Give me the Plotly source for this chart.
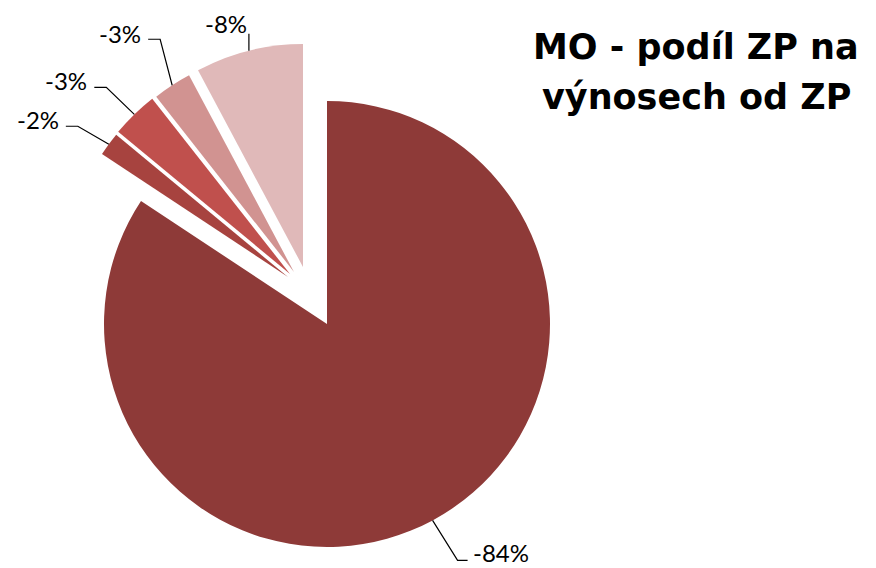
import math
import plotly.graph_objects as go

# ---- data ----
categories = ["MO 1", "MO 2", "MO 3", "MO 4", "MO 5"]
values = [84.3, 1.7, 3.4, 2.8, 7.8]          # shares (shown as negative %)
colors = ["#8E3A38", "#A7433F", "#C0504D", "#D19391", "#E0B9B9"]
title_lines = ["MO - podíl ZP na", "výnosech od ZP"]

# ---- layout / style ----
VW, VH = 876, 568            # browser window
OFF = 8                      # default page margin of the html body
W, H = VW - OFF, VH - OFF    # figure size so it ends at window edge
R = 223                      # pie radius (px)
C = (327, 324)               # centre of the main pie (window px)
# explode offsets (px) of each slice's apex from the main centre
explode = [(0, 0), (-39, -47), (-37, -50), (-33, -52), (-24, -57)]
# leader elbows relative to rim point, horizontal tail, text offset
leader = [
    dict(e=(25, 40), tail=10, side="left", dy=-8),
    dict(e=(-31, -18), tail=-12, side="right", dy=-7),
    dict(e=(-28, -27), tail=-12, side="right", dy=-7),
    dict(e=(-12, -46), tail=-12, side="right", dy=-6),
    dict(e=(0, -17), tail=0, side="right", dy=-10),
]
LABEL_FONT = "Lato, 'Open Sans', sans-serif"
TITLE_FONT = "'DejaVu Sans', sans-serif"

def px2paper(x, y):
    return (x - OFF) / W, 1 - (y - OFF) / H

total = sum(values)
fig = go.Figure()
shapes = []
annotations = []
cum = 0.0
for i, v in enumerate(values):
    cx, cy = C[0] + explode[i][0], C[1] + explode[i][1]
    x0, y1 = px2paper(cx - R, cy - R)
    x1, y0 = px2paper(cx + R, cy + R)
    cols = [colors[j] if j == i else "rgba(0,0,0,0)" for j in range(len(values))]
    fig.add_trace(go.Pie(
        labels=categories, values=values, sort=False, direction="clockwise",
        rotation=0, textinfo="none", hoverinfo="label+percent",
        marker=dict(colors=cols, line=dict(width=0)),
        domain=dict(x=[x0, x1], y=[y0, y1]), showlegend=False,
    ))
    # bisector angle (clockwise from 12 o'clock)
    theta = math.radians((cum + v / 2) / total * 360)
    cum += v
    px_ = cx + R * math.sin(theta)
    py_ = cy - R * math.cos(theta)
    L = leader[i]
    ex, ey = px_ + L["e"][0], py_ + L["e"][1]
    fx, fy = ex + L["tail"], ey
    pts = [px2paper(px_, py_), px2paper(ex, ey), px2paper(fx, fy)]
    path = "M {} {} L {} {} L {} {}".format(*[c for p in pts for c in p])
    shapes.append(dict(type="path", path=path, xref="paper", yref="paper",
                       line=dict(color="black", width=1.2)))
    if L["side"] == "left":
        tx, xanchor = fx + 3, "left"
    else:
        tx, xanchor = fx - (5 if L["tail"] else 0), "right"
    ax_, ay_ = px2paper(tx, fy + L["dy"])
    pct = round(v / total * 100)
    annotations.append(dict(x=ax_, y=ay_, xref="paper", yref="paper",
                            text="-{}%".format(pct), showarrow=False,
                            xanchor=xanchor, yanchor="middle",
                            font=dict(family=LABEL_FONT, size=24, color="black")))

for k, line in enumerate(title_lines):
    tx, ty = px2paper(696, 47 + 50 * k)
    annotations.append(dict(x=tx, y=ty, xref="paper", yref="paper",
                            text="<b>{}</b>".format(line), showarrow=False,
                            xanchor="center", yanchor="middle",
                            font=dict(family=TITLE_FONT, size=35, color="black")))

fig.update_layout(
    width=W, height=H, autosize=False,
    margin=dict(l=0, r=0, t=0, b=0, pad=0),
    paper_bgcolor="white", plot_bgcolor="white",
    shapes=shapes, annotations=annotations,
)
fig.write_html("out.html")
